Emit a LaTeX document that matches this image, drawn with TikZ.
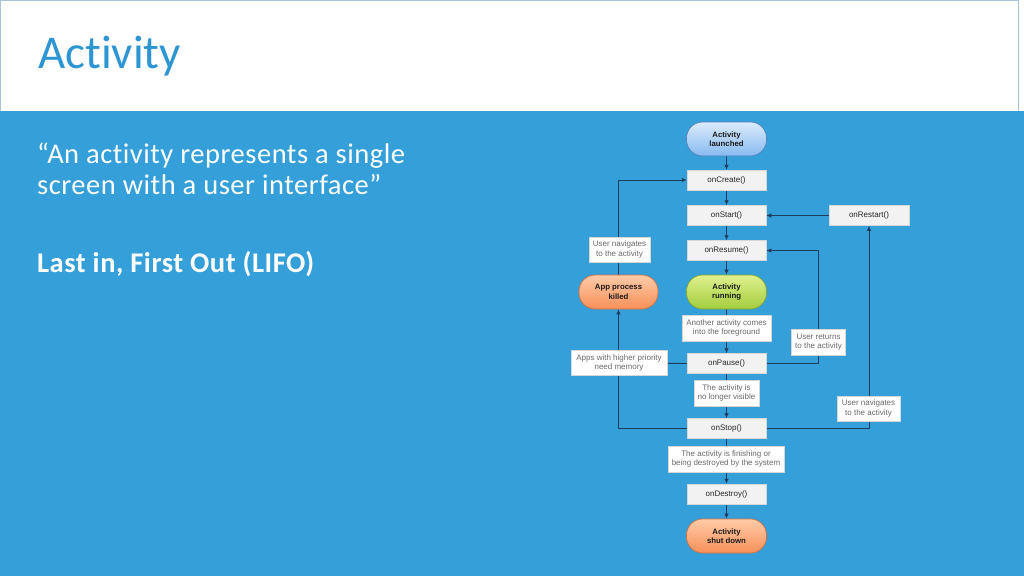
\documentclass[tikz,border=0pt]{standalone}
\usepackage{fontspec}
\setmainfont{Carlito}[Ligatures=CommonOff]
\newfontfamily\bodyfont{Carlito}[Ligatures=CommonOff, LetterSpace=1.8]
\newfontfamily\diag{Liberation Sans}
\usetikzlibrary{arrows.meta,calc}
\pgfdeclarelayer{bgl}
\pgfdeclarelayer{edges}
\pgfsetlayers{bgl,edges,main}
\definecolor{slideblue}{HTML}{359FDA}
\definecolor{titleblue}{HTML}{2D95D4}
\definecolor{framecol}{HTML}{A9C2D6}
\definecolor{linecol}{HTML}{1B3E5E}
\definecolor{methfill}{HTML}{F2F2F2}
\definecolor{methdraw}{HTML}{D6D6D6}
\definecolor{lbltext}{HTML}{6A6A6A}
\definecolor{bluetop}{HTML}{DCEBFB}
\definecolor{bluebot}{HTML}{86BAF0}
\definecolor{bluedraw}{HTML}{4F80B8}
\definecolor{greentop}{HTML}{E0F08E}
\definecolor{greenbot}{HTML}{A2CD3C}
\definecolor{greendraw}{HTML}{82A52D}
\definecolor{orangetop}{HTML}{FFCBA8}
\definecolor{orangebot}{HTML}{F79058}
\definecolor{orangedraw}{HTML}{D26E3C}
\tikzset{
  method/.style={rectangle, fill=methfill, draw=methdraw, line width=0.5pt,
    minimum width=79pt, minimum height=20pt, inner sep=0pt,
    font=\diag\fontsize{8}{9.5}\selectfont, text=black!85},
  pill/.style={rectangle, rounded corners=16pt, minimum width=80pt, minimum height=34pt,
    inner sep=0pt, align=center, line width=0.7pt,
    font=\diag\bfseries\fontsize{7.8}{9.5}\selectfont, text=black!90},
  bluepill/.style={pill, draw=bluedraw, top color=bluetop, bottom color=bluebot},
  greenpill/.style={pill, draw=greendraw, top color=greentop, bottom color=greenbot},
  orangepill/.style={pill, draw=orangedraw, top color=orangetop, bottom color=orangebot},
  lbl/.style={rectangle, fill=white, draw=methdraw, line width=0.4pt, inner sep=0pt,
    align=center, text=lbltext, font=\diag\fontsize{8}{9.5}\selectfont},
  conn/.style={draw=linecol, line width=0.9pt},
  arr/.style={conn, -{Latex[length=5pt,width=4.5pt]}},
  slidetext/.style={anchor=base west, inner sep=0pt, text=white, font=\bodyfont\fontsize{28.5}{32}\selectfont}
}
\begin{document}
\begin{tikzpicture}[x=1pt,y=-1pt]
\begin{pgfonlayer}{bgl}
\fill[slideblue] (0,0) rectangle (1024,576);
\fill[white] (0,0) rectangle (1024,110.5);
\draw[framecol, line width=1pt] (0.5,110.5) -- (0.5,0.5) -- (1018.5,0.5) -- (1018.5,110.5);
\end{pgfonlayer}
\useasboundingbox (0,0) rectangle (1024,576);

% slide text
\node[anchor=base west, inner sep=0pt, text=titleblue, font=\fontsize{47}{56}\selectfont] (title) at (38,68.5) {Activity};
\node[slidetext] (q1) at (37,163) {“An activity represents a single};
\node[slidetext] (q2) at (37,194.5) {screen with a user interface”};
\node[slidetext, font=\bodyfont\bfseries\fontsize{28.5}{32}\selectfont] (lifo) at (37,272) {Last in, First Out (LIFO)};

% diagram nodes
\node[bluepill] (launched) at (726.5,139) {Activity\\launched};
\node[method] (onCreate) at (726.5,180) {onCreate()};
\node[method] (onStart) at (726.5,215.5) {onStart()};
\node[method, minimum width=80pt] (onRestart) at (869,215.5) {onRestart()};
\node[method] (onResume) at (726.5,250.5) {onResume()};
\node[greenpill] (running) at (726.5,292) {Activity\\running};
\node[orangepill, minimum width=79pt] (killed) at (618.5,292) {App process\\killed};
\node[lbl, minimum width=61pt, minimum height=25pt] (nav1) at (619.5,249.5) {User navigates\\to the activity};
\node[lbl, minimum width=89pt, minimum height=26pt] (another) at (726.5,328) {Another activity comes\\into the foreground};
\node[lbl, minimum width=54pt, minimum height=26pt] (userRet) at (818.5,342) {User returns\\to the activity};
\node[method] (onPause) at (726.5,363.5) {onPause()};
\node[lbl, minimum width=96pt, minimum height=25pt] (apps) at (619,363) {Apps with higher priority\\need memory};
\node[lbl, minimum width=65pt, minimum height=26pt] (noLonger) at (726.5,393) {The activity is\\no longer visible};
\node[lbl, minimum width=63pt, minimum height=25pt] (nav2) at (868.5,408.5) {User navigates\\to the activity};
\node[method] (onStop) at (726.5,428.5) {onStop()};
\node[lbl, minimum width=116pt, minimum height=26pt] (finishing) at (726,459) {The activity is finishing or\\being destroyed by the system};
\node[method] (onDestroy) at (726.5,494) {onDestroy()};
\node[orangepill] (shutdown) at (726.5,536) {Activity\\shut down};

% connectors
\begin{pgfonlayer}{edges}
\draw[arr] (launched) -- (onCreate);
\draw[arr] (onCreate) -- (onStart);
\draw[arr] (onStart) -- (onResume);
\draw[arr] (onResume) -- (running);
\draw[arr] (running) -- (onPause);
\draw[arr] (onPause) -- (onStop);
\draw[arr] (onStop) -- (onDestroy);
\draw[arr] (onDestroy) -- (shutdown);
\draw[arr] (onRestart) -- (onStart);
\draw[arr] (onPause.east) -| (userRet.north) |- (onResume.east);
\draw[arr] (onStop.east) -| (onRestart.south);
\draw[arr] (onStop.west) -| (killed.south);
\draw[conn] (onPause.west) -- (apps.center);
\draw[arr] (killed.north) |- (onCreate.west);
\end{pgfonlayer}
\end{tikzpicture}
\end{document}
